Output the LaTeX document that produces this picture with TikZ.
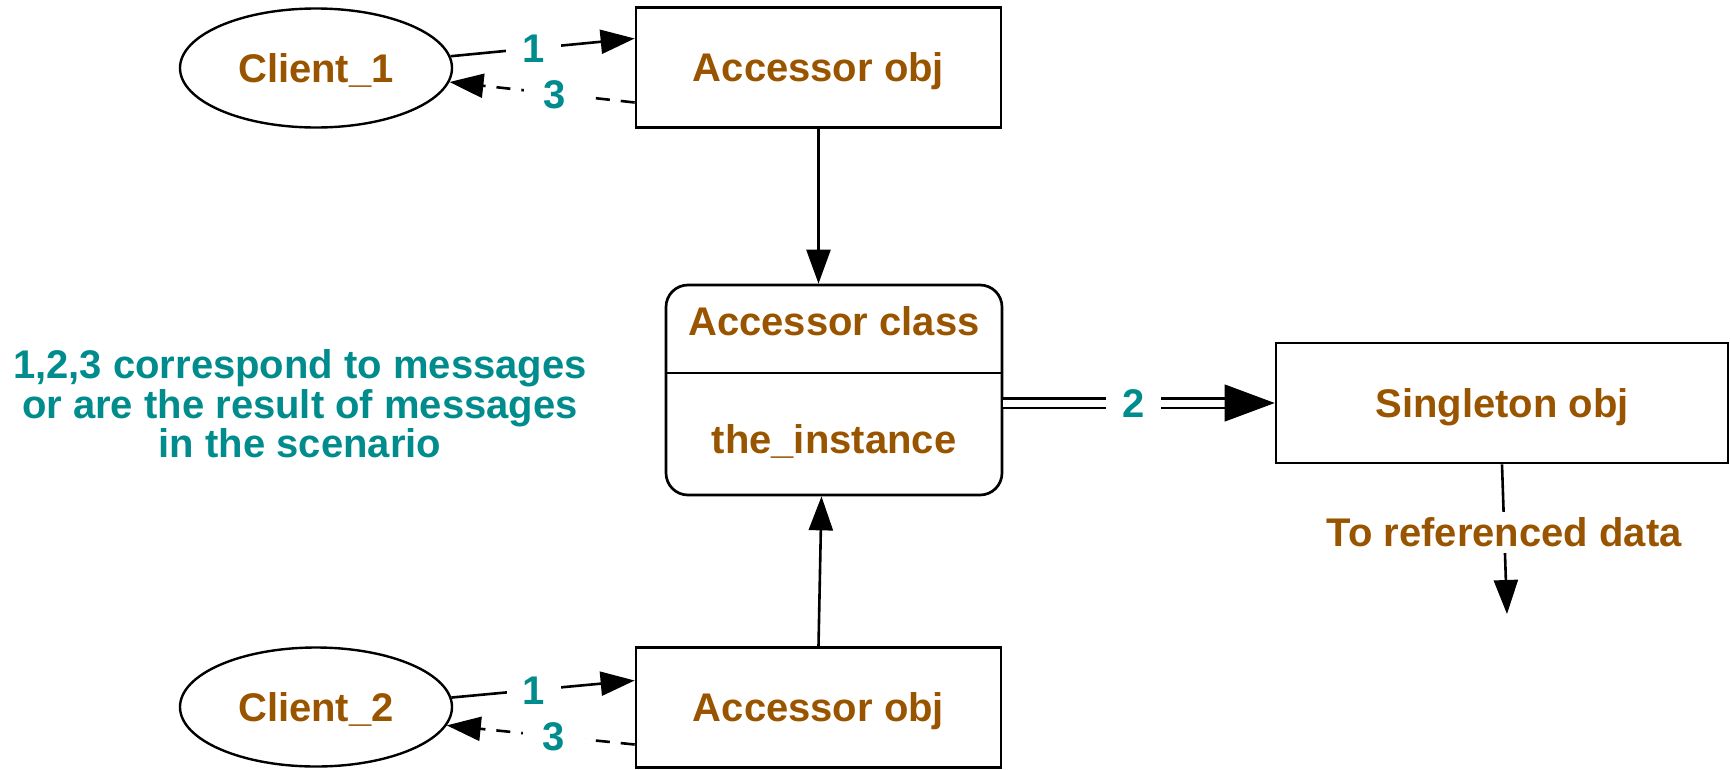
\documentclass[tikz,border=0pt]{standalone}
\usepackage{fontspec}
\setmainfont{Liberation Sans}
\usetikzlibrary{arrows.meta,calc,shapes.geometric}
\definecolor{txtbrown}{RGB}{153,84,0}
\definecolor{numteal}{RGB}{0,140,140}
\tikzset{
  bigfont/.style={font=\fontsize{40}{40}\selectfont\bfseries},
  objbox/.style={bigfont, draw, line width=2.7pt, rectangle, minimum width=365pt, minimum height=120pt, text=txtbrown, text height=36pt, text depth=8pt, inner sep=0pt},
  client/.style={bigfont, draw, line width=2.4pt, ellipse, minimum width=272pt, minimum height=119pt, text=txtbrown, text height=36pt, text depth=8pt, inner sep=0pt},
  brtext/.style={bigfont, text=txtbrown, text height=36pt, text depth=8pt, inner sep=0pt},
  num/.style={bigfont, text=numteal, fill=white, text height=29pt, text depth=0pt, inner xsep=16pt, inner ysep=3pt},
  conn/.style={line width=2.6pt, -{Triangle[length=34pt,width=24pt]}},
  dconn/.style={conn, dash pattern=on 14pt off 11pt},
  dbl/.style={line width=2.6pt, double, double distance=7pt},
  bigtip/.style={line width=1pt, -{Triangle[length=50pt,width=37pt]}},
}
\begin{document}
\begin{tikzpicture}[x=1pt,y=-1pt]
\useasboundingbox (0,0) rectangle (1730,769);
\node[client] (c1) at (316,68) {Client\_1};
\node[objbox] (a1) at (818.5,67.5) {Accessor obj};
\node[client] (c2) at (316,707) {Client\_2};
\node[objbox] (a2) at (818.5,707.5) {Accessor obj};
\node[draw, line width=2.7pt, rounded corners=22pt, minimum width=336pt, minimum height=210pt, inner sep=0pt] (cls) at (834,390) {};
\node[brtext] (clsname) at (834,321) {Accessor class};
\node[brtext] (inst) at (834,439) {the\_instance};
\draw[line width=2.7pt] (cls.west |- 0,373) -- (cls.east |- 0,373);
\node[objbox, minimum width=452pt] (s) at (1502,403) {Singleton obj};
\node[bigfont, text=numteal, align=center, font=\fontsize{40}{39.5}\selectfont\bfseries] (note) at (300,404) {1,2,3 correspond to messages\\or are the result of messages\\in the scenario};
\draw[conn] (c1.5) -- node[num,pos=.45]{1} ($(a1.west)+(0,-29)$);
\draw[dconn] ($(a1.west)+(0,35)$) -- node[num,pos=.43,inner xsep=20pt]{3} (c1.-6);
\draw[conn] (c2.4) -- node[num,pos=.45]{1} ($(a2.west)+(0,-27)$);
\draw[dconn] ($(a2.west)+(0,37)$) -- node[num,pos=.43,inner xsep=20pt]{3} (c2.-8);
\draw[conn] (a1.south) -- (a1.south |- cls.north);
\draw[conn] (a2.north) -- ($(a2.north |- cls.south)+(3,0)$);
\draw[dbl, shorten >=50pt] (cls.east |- s.west) -- node[num,pos=.48]{2} (s.west);
\draw[bigtip] ($(s.west)+(-50,0)$) -- (s.west);
\coordinate (dend) at (1507,614);
\draw[conn] (s.south) -- node[brtext, fill=white, text height=34pt, text depth=6pt, inner xsep=4pt, inner ysep=0.5pt, pos=.457]{To referenced data} (dend);
\end{tikzpicture}
\end{document}
